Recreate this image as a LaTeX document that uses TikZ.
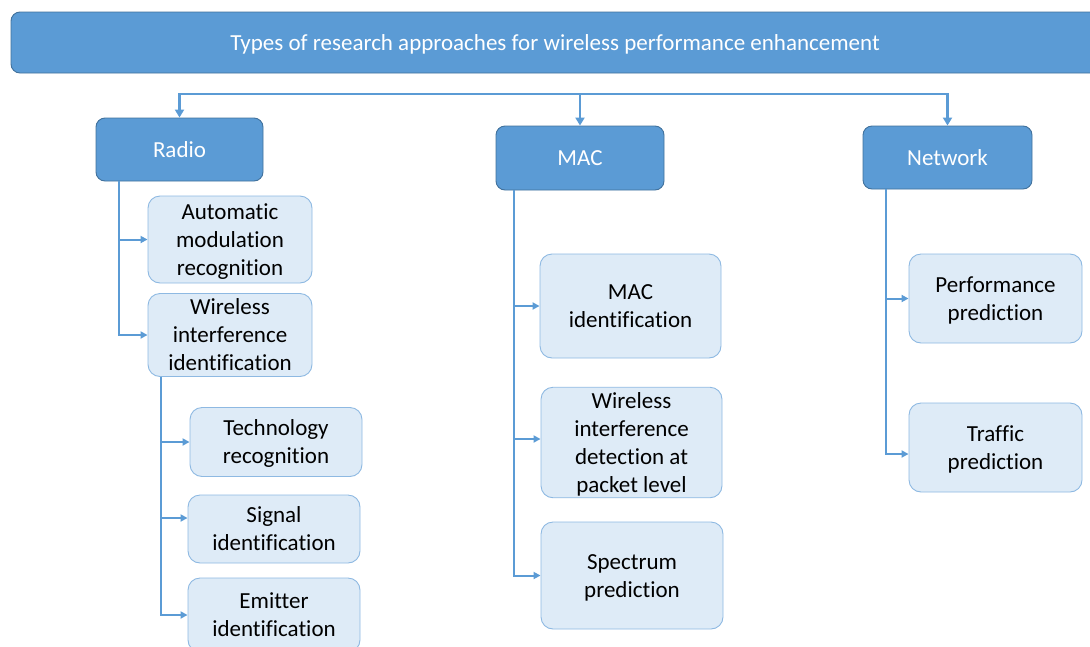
\documentclass[tikz,border=0pt]{standalone}
\usepackage{fontspec}
\setmainfont{Carlito}[Ligatures=NoCommon]
\usetikzlibrary{arrows.meta}
\definecolor{hdblue}{HTML}{5B9BD5}
\definecolor{hdedge}{HTML}{41719C}
\definecolor{subfill}{HTML}{DEEBF7}
\definecolor{subedge}{HTML}{8EB9E2}

\begin{document}
\begin{tikzpicture}[x=1pt,y=-1pt,
    every node/.style={font=\fontsize{23}{28}\selectfont, align=center, inner sep=0pt,
      execute at begin node={\rule{0pt}{21pt}}, execute at end node={\rule[-5.5pt]{0pt}{0pt}}},
    head/.style={draw=hdedge, fill=hdblue, text=white, rounded corners=9pt, line width=0.9pt},
    sub/.style={draw=subedge, fill=subfill, text=black, text width=150pt, align=flush center,
      rounded corners=12pt, line width=0.9pt},
    link/.style={draw=hdblue, line width=2pt, -{Triangle[length=7pt,width=7pt]}},
    bus/.style={link, line width=2.6pt, -{Triangle[length=8pt,width=9pt]}}]
    \clip (0,0) rectangle (1090,646);
    \node[head, minimum width=1088, minimum height=61] (top) at (555,42.5) {Types of research approaches for wireless performance enhancement};

    \node[head, minimum width=167, minimum height=63] (radio) at (179.5,149.5) {Radio};
    \node[head, minimum width=168, minimum height=64] (mac)   at (580,158)     {MAC};
    \node[head, minimum width=169, minimum height=63] (net)   at (947.5,157.5) {Network};

    \coordinate (fork) at (580,94);
    \draw[bus] (fork) -| (radio);
    \draw[bus] (fork) -- (mac);
    \draw[bus] (fork) -| (net);

    \node[sub, minimum width=164, minimum height=87] (amr)  at (230,239.5) {Automatic\\modulation\\recognition};
    \node[sub, minimum width=164, minimum height=83] (wii)  at (230,335)   {Wireless\\interference\\identification};
    \node[sub, minimum width=172, minimum height=69] (tech) at (276,442)   {Technology\\recognition};
    \node[sub, minimum width=172, minimum height=68] (sig)  at (274,529)   {Signal\\identification};
    \node[sub, minimum width=172, minimum height=74] (emit) at (274,615)   {Emitter\\identification};

    \draw[link] ([xshift=23pt]radio.south west) |- (amr);
    \draw[link] ([xshift=23pt]radio.south west) |- (wii);
    \draw[link] ([xshift=13pt]wii.south west) |- (tech);
    \draw[link] ([xshift=13pt]wii.south west) |- ([yshift=11pt]sig.west);
    \draw[link] ([xshift=13pt]wii.south west) |- (emit);

    \node[sub, minimum width=181, minimum height=104] (macid) at (630.5,306)   {MAC\\identification};
    \node[sub, minimum width=181, minimum height=109] (wid)   at (631.5,442.5) {Wireless\\interference\\detection at\\packet level};
    \node[sub, minimum width=182, minimum height=107] (spec)  at (632,575.5)   {Spectrum\\prediction};

    \draw[link] ([xshift=18pt]mac.south west) |- (macid);
    \draw[link] ([xshift=18pt]mac.south west) |- ([yshift=3.5pt]wid.west);
    \draw[link] ([xshift=18pt]mac.south west) |- (spec);

    \node[sub, minimum width=173, minimum height=89] (perf) at (995.5,298.5) {Performance\\prediction};
    \node[sub, minimum width=173, minimum height=89] (traf) at (995.5,447.5) {Traffic\\prediction};

    \draw[link] ([xshift=23pt]net.south west) |- (perf);
    \draw[link] ([xshift=23pt]net.south west) |- ([yshift=-6.5pt]traf.west);
\end{tikzpicture}
\end{document}
